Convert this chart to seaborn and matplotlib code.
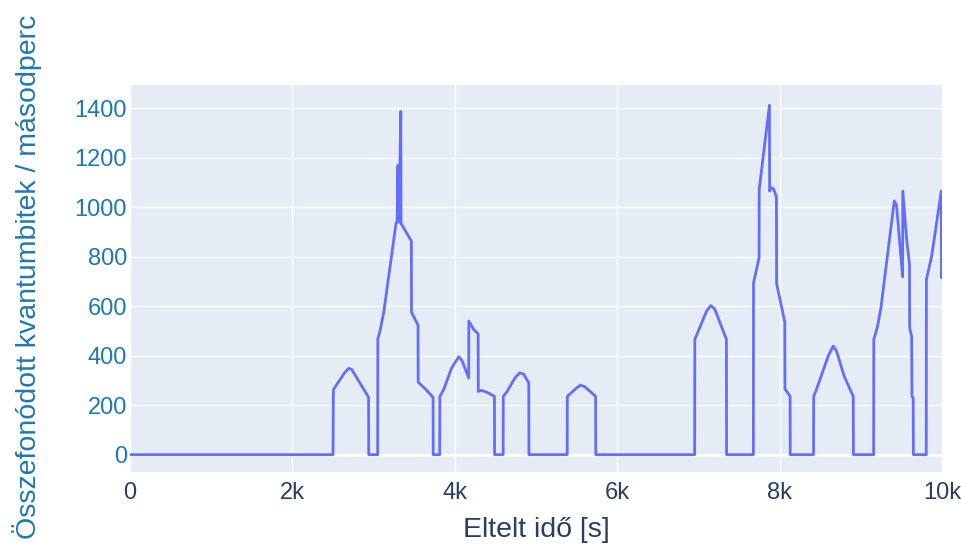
import matplotlib
matplotlib.use("Agg")
import matplotlib.pyplot as plt
import seaborn as sns
import pandas as pd

# Elapsed time [s]
time_s = [0, 2500, 2505, 2640, 2692, 2730, 2938, 2940, 3050, 3052, 3083, 3124,
          3276, 3290, 3300, 3304, 3308, 3312, 3335, 3338, 3465, 3467, 3547, 3549,
          3640, 3732, 3734, 3814, 3816, 3863, 3960, 4048, 4090, 4171, 4173, 4233,
          4287, 4289, 4330, 4398, 4488, 4490, 4595, 4597, 4645, 4740, 4800, 4850,
          4911, 4913, 5384, 5386, 5500, 5549, 5600, 5734, 5736, 6954, 6956, 7100,
          7151, 7200, 7345, 7347, 7677, 7679, 7747, 7749, 7875, 7877, 7900, 7925,
          7961, 7963, 8064, 8066, 8129, 8131, 8418, 8420, 8450, 8600, 8660, 8700,
          8796, 8907, 8909, 9158, 9160, 9207, 9248, 9412, 9440, 9515, 9517, 9565,
          9600, 9602, 9626, 9630, 9645, 9648, 9806, 9808, 9873, 9991, 9994, 10000]
# Entangled qubits per second
rate = [0, 0, 263, 330, 349, 345, 232, 0, 0, 468, 506, 574,
        935, 945, 1170, 940, 1165, 945, 1388, 935, 864, 576, 524, 293,
        265, 232, 0, 0, 236, 263, 350, 396, 380, 310, 540, 506,
        489, 256, 260, 252, 236, 0, 0, 236, 256, 310, 331, 325,
        290, 0, 0, 236, 270, 281, 275, 236, 0, 0, 466, 580,
        603, 590, 467, 0, 0, 695, 796, 1073, 1413, 1066, 1080, 1075,
        1043, 692, 536, 266, 236, 0, 0, 236, 260, 400, 439, 420,
        317, 236, 0, 0, 466, 520, 594, 1026, 1010, 719, 1066, 870,
        769, 513, 479, 236, 230, 0, 0, 709, 803, 1066, 716, 735]

x_ticks = [0, 2000, 4000, 6000, 8000, 10000]
x_tick_labels = ["0", "2k", "4k", "6k", "8k", "10k"]
y_ticks = [0, 200, 400, 600, 800, 1000, 1200, 1400]

df = pd.DataFrame({"t": time_s, "r": rate})

sns.set_theme(style="darkgrid")
plt.rcParams["font.family"] = ["Liberation Sans", "DejaVu Sans"]

fig = plt.figure(figsize=(9.61, 5.46), dpi=100)
ax = fig.add_axes([130/961, 1-472/546, (942-130)/961, (472-85)/546])
ax.set_facecolor("#E5ECF6")

sns.lineplot(data=df, x="t", y="r", ax=ax, estimator=None, sort=False,
             color="#636EFA", linewidth=2)

ax.set_xlim(0, 10000)
ax.set_ylim(-70, 1495)
ax.set_xticks(x_ticks)
ax.set_xticklabels(x_tick_labels)
ax.set_yticks(y_ticks)
ax.grid(True, color="white", linewidth=1)
ax.axhline(0, color="white", linewidth=2, zorder=1)
for s in ax.spines.values():
    s.set_visible(False)
ax.tick_params(axis="x", length=0, pad=7, labelsize=17, labelcolor="#2a3f5f")
ax.tick_params(axis="y", length=0, pad=2, labelsize=17, labelcolor="#1f77b4")
ax.set_xlabel("")
ax.set_ylabel("")

fig.text(536/961, 1-530/546, "Eltelt idő [s]", ha="center", va="center",
         fontsize=20.5, color="#2a3f5f")
fig.text(27/961, 1-277/546, "Összefonódott kvantumbitek / másodperc", ha="center",
         va="center", rotation=90, fontsize=20.5, color="#1f77b4")

fig.savefig("out.png", dpi=100, facecolor="white")
